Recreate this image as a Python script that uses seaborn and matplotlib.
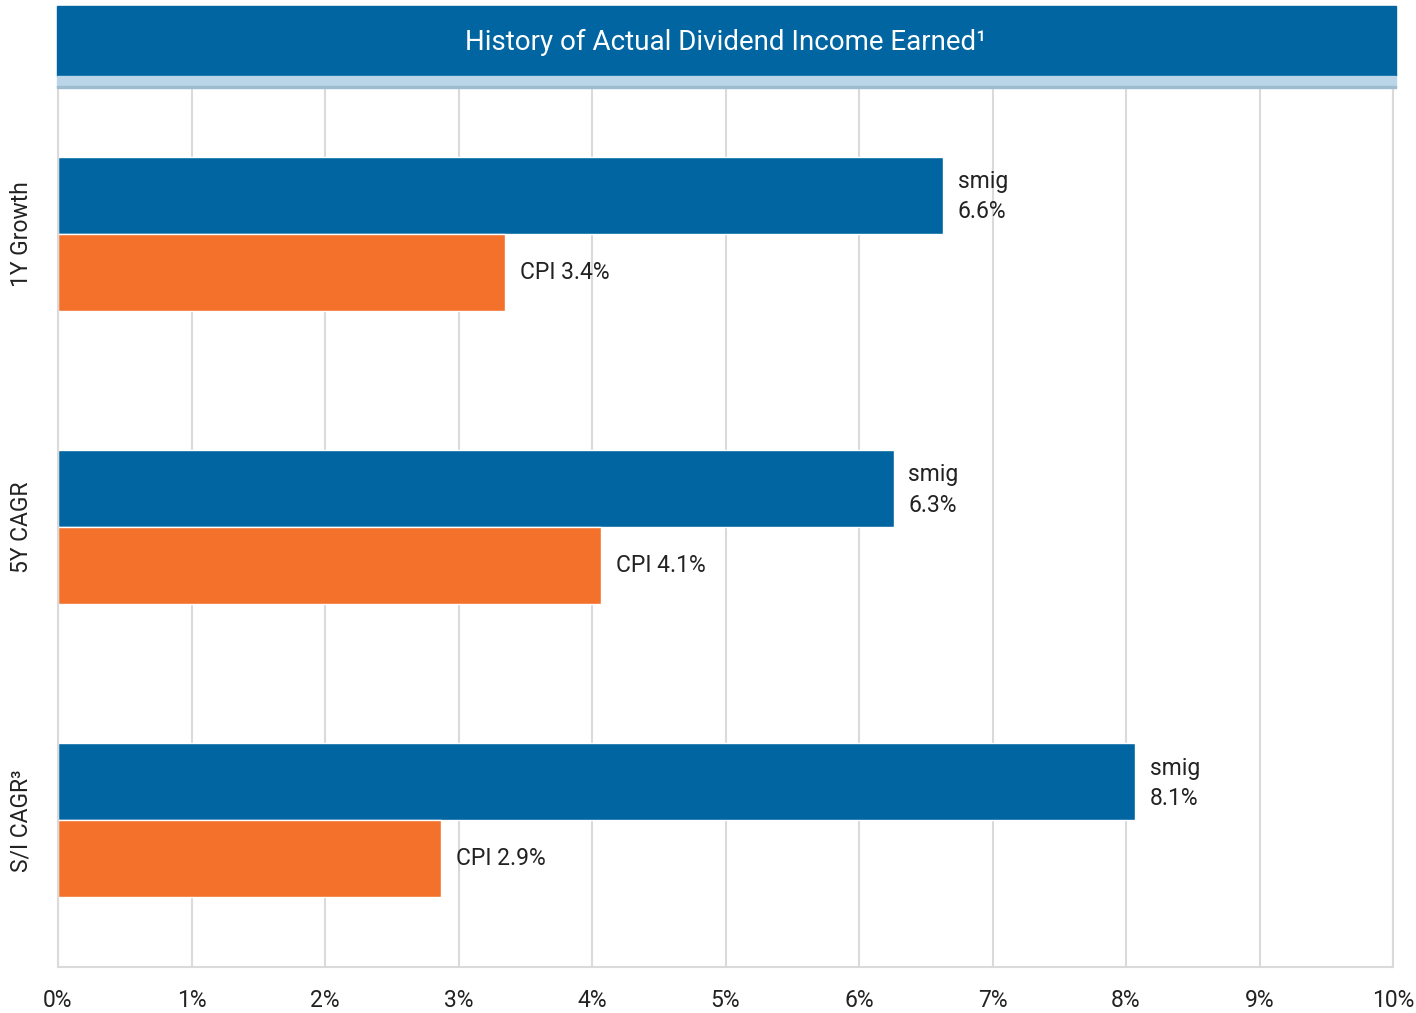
import matplotlib
matplotlib.use('Agg')
import matplotlib.pyplot as plt
import pandas as pd
import seaborn as sns
from matplotlib.patches import Rectangle

sns.set_theme(style="white")
plt.rcParams['font.family'] = ['Roboto', 'DejaVu Sans']

# Data
categories = ['1Y Growth', '5Y CAGR', 'S/I CAGR³']
smig_values = [6.63, 6.26, 8.07]
cpi_values = [3.35, 4.07, 2.87]
smig_labels = ['smig\n6.6%', 'smig\n6.3%', 'smig\n8.1%']
cpi_labels = ['CPI 3.4%', 'CPI 4.1%', 'CPI 2.9%']
tick_labels = [f'{i}%' for i in range(0, 11)]

BLUE = '#0065A1'
ORANGE = '#F3712B'
GRID = '#DADADA'
TEXT = '#222222'

df = pd.DataFrame({
    'category': categories * 2,
    'series': ['smig'] * 3 + ['CPI'] * 3,
    'value': smig_values + cpi_values,
})

fig = plt.figure(figsize=(14.16, 10.13), dpi=100)
ax = fig.add_axes([58 / 1416, 46 / 1013, 1335 / 1416, 880 / 1013])

sns.barplot(data=df, y='category', x='value', hue='series',
            hue_order=['smig', 'CPI'], palette=[BLUE, ORANGE],
            width=0.525, saturation=1, legend=False, ax=ax)

ax.set_xlim(0, 10)
ax.set_ylim(2.5, -0.5)
ax.set_xticks(range(0, 11))
ax.set_xticklabels(tick_labels, fontsize=16.5, color=TEXT)
ax.tick_params(axis='x', length=0, pad=16)
ax.tick_params(axis='y', length=0, pad=18)
for lbl in ax.get_yticklabels():
    lbl.set_rotation(90)
    lbl.set_va('center')
    lbl.set_fontsize(16.5)
    lbl.set_color(TEXT)
ax.set_xlabel('')
ax.set_ylabel('')
ax.xaxis.grid(True, color=GRID, linewidth=1.5)
ax.set_axisbelow(True)
for side in ['left', 'bottom', 'right']:
    ax.spines[side].set_color(GRID)
    ax.spines[side].set_linewidth(1.5)
ax.spines['top'].set_visible(False)

# value labels
bar_h = 0.525 / 2
for i in range(len(categories)):
    ax.text(smig_values[i] + 0.11, i - bar_h / 2 + 0.005, smig_labels[i],
            va='center', ha='left', fontsize=16.5, color=TEXT, linespacing=1.4)
    ax.text(cpi_values[i] + 0.11, i + bar_h / 2, cpi_labels[i],
            va='center', ha='left', fontsize=16.5, color=TEXT)

# title banner
fig.add_artist(Rectangle((57 / 1416, 1 - 76 / 1013), 1339 / 1416, 70 / 1013,
                         transform=fig.transFigure, color=BLUE, zorder=5))
fig.add_artist(Rectangle((57 / 1416, 1 - 87 / 1013), 1339 / 1416, 11 / 1013,
                         transform=fig.transFigure, color='#BAD5E8', zorder=5))
fig.add_artist(Rectangle((57 / 1416, 1 - 88 / 1013), 1339 / 1416, 2 / 1013,
                         transform=fig.transFigure, color='#9DBCCF', zorder=5))
fig.text(726 / 1416, 1 - 42 / 1013, 'History of Actual Dividend Income Earned¹',
         ha='center', va='center', color='white', fontsize=20, zorder=6)

fig.savefig('out.png', dpi=100)
